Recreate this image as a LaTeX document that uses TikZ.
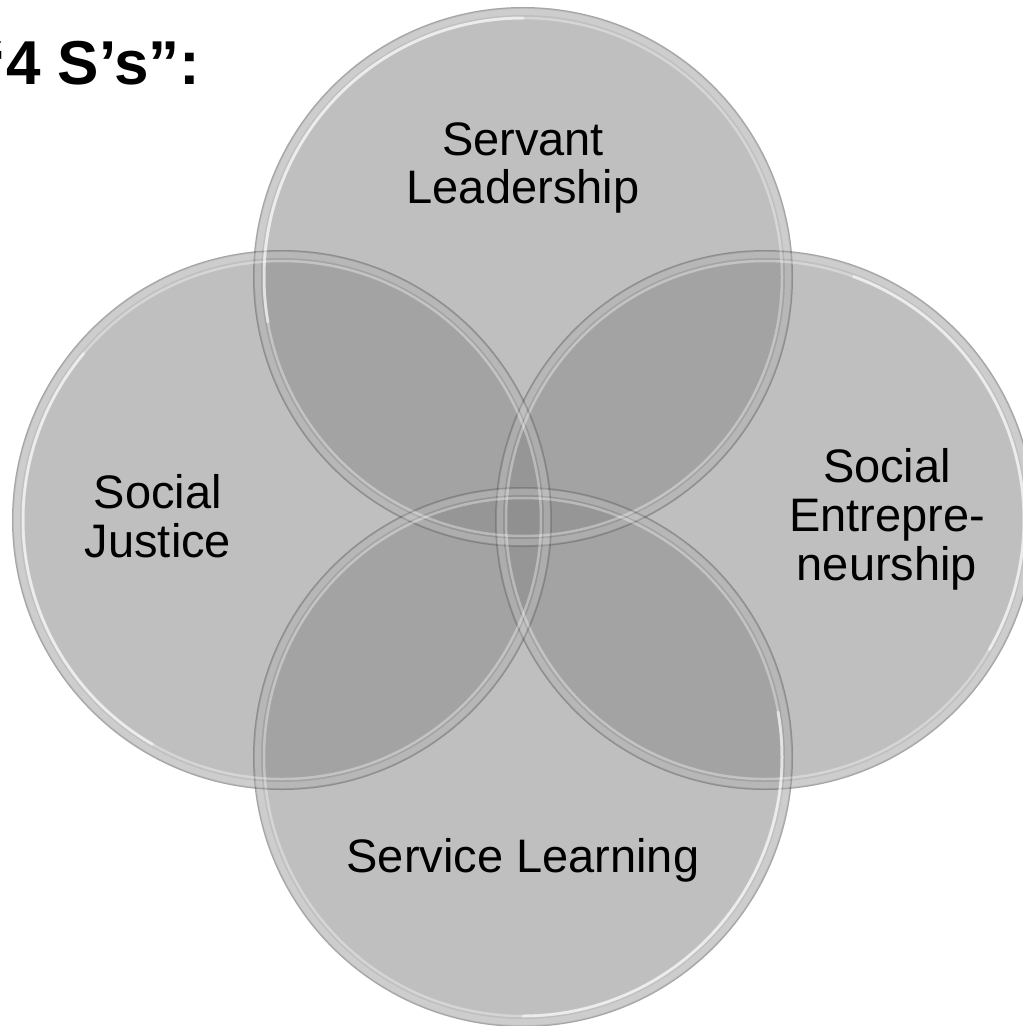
\documentclass[tikz,border=0pt]{standalone}
\usepackage{fontspec}
\setmainfont{Liberation Sans}
\definecolor{vfill}{HTML}{8C8C8C}
\begin{document}
\begin{tikzpicture}[x=1pt,y=-1pt,
  venn/.style={fill=vfill, fill opacity=0.55, draw=none},
  edge/.style={draw=black, draw opacity=0.13, line width=1.2pt},
  band/.style={draw=white, draw opacity=0.22, line width=6pt},
  gloss/.style={draw=white, draw opacity=0.35, line width=2.5pt},
  shine/.style={draw=white, draw opacity=0.55, line width=3pt, line cap=round},
  lbl/.style={font=\fontsize{47}{48}\selectfont, anchor=base, inner sep=0pt, text=black},
]
\useasboundingbox (0,0) rectangle (1023,1026);
\clip (0,0) rectangle (1023,1026);
\fill[white] (0,0) rectangle (1023,1026);

\coordinate (cT) at (523,277);
\coordinate (cR) at (765,520);
\coordinate (cB) at (523,757);
\coordinate (cL) at (282,520);

% fills
\foreach \c in {cT,cR,cB,cL}{
  \fill[venn] (\c) circle[radius=270pt];
}
% rims
\foreach \c/\a in {cT/140,cR/20,cB/-40,cL/190}{
  \draw[edge] (\c) circle[radius=269.4pt];
  \draw[band] (\c) circle[radius=265pt];
  \draw[gloss] (\c) circle[radius=259pt];
  \draw[shine] (\c) ++(\a-50:259pt) arc[start angle=\a-50, end angle=\a+50, radius=259pt];
}

% title
\node[anchor=base west, inner sep=0pt, font=\fontsize{62}{62}\selectfont\bfseries] (title) at (-25,84) {“4 S’s”:};

% labels
\node[lbl] (sl1) at (523,155) {Servant};
\node[lbl] (sl2) at (523,203) {Leadership};
\node[lbl] (sj1) at (158,508) {Social};
\node[lbl] (sj2) at (158,557) {Justice};
\node[lbl] (se1) at (887,482) {Social};
\node[lbl] (se2) at (887,531) {Entrepre-};
\node[lbl] (se3) at (887,580) {neurship};
\node[lbl] (svl) at (523,872) {Service Learning};
\end{tikzpicture}
\end{document}
